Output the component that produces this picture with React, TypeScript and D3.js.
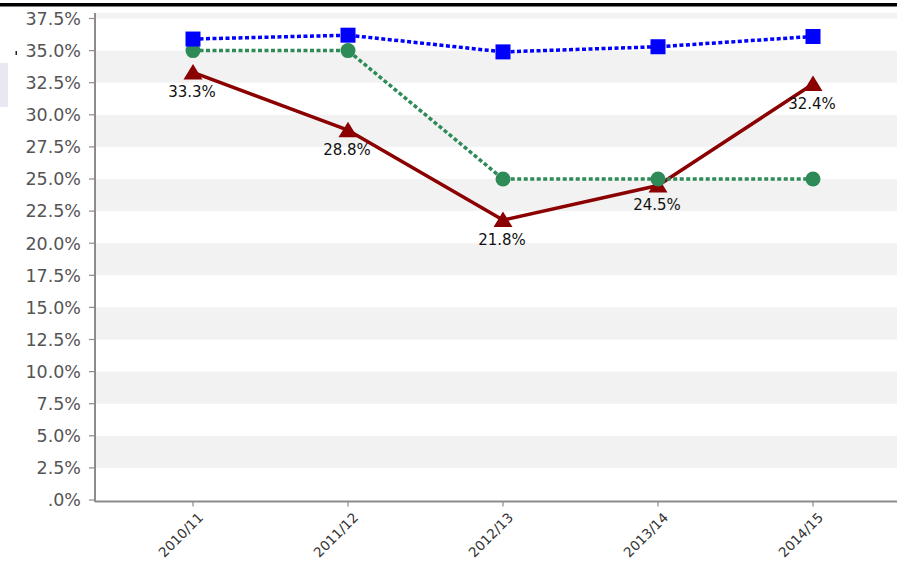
import React from "react";
import * as d3 from "d3";

const categories = ["2010/11", "2011/12", "2012/13", "2013/14", "2014/15"];
const blueValues = [35.9, 36.2, 34.9, 35.3, 36.1];
const greenValues = [35.0, 35.0, 25.0, 25.0, 25.0];
const redValues = [33.3, 28.8, 21.8, 24.5, 32.4];
const yTicks = [0, 2.5, 5, 7.5, 10, 12.5, 15, 17.5, 20, 22.5, 25, 27.5, 30, 32.5, 35, 37.5];

const W = 897;
const H = 565;
const plotLeft = 95;
const plotTop = 13;
const plotBottom = 500;

const fmtTick = (d: number) => (d === 0 ? ".0%" : d.toFixed(1) + "%");

export default function App() {
  const x = d3.scalePoint<string>().domain(categories).range([193, 813]);
  const y = d3.scaleLinear().domain([0, 37.5]).range([plotBottom, 18.5]);

  const line = d3
    .line<number>()
    .x((_, i) => x(categories[i]) as number)
    .y((d) => y(d));

  const bandStep = 2.5;
  const bands = d3.range(0, 16).filter((i) => i % 2 === 1);

  const font = "Tahoma, 'DejaVu Sans', sans-serif";

  return (
    <svg
      width={W}
      height={H}
      style={{ position: "absolute", left: 0, top: 0, background: "#fff" }}
    >
      <defs>
        <clipPath id="plotClip">
          <rect x={plotLeft} y={plotTop} width={W - plotLeft} height={plotBottom - plotTop} />
        </clipPath>
      </defs>

      {/* top rule and stray bits on the left */}
      <rect x={0} y={3} width={W} height={3.5} fill="#000" />
      <rect x={0} y={63} width={8} height={44} fill="#e8e8f3" />
      <rect x={15.5} y={51} width={1.5} height={4} fill="#222" />

      <g clipPath="url(#plotClip)">
        {bands.map((i) => (
          <rect
            key={i}
            x={plotLeft}
            y={y((i + 1) * bandStep)}
            width={W - plotLeft}
            height={y(i * bandStep) - y((i + 1) * bandStep)}
            fill="#f2f2f2"
          />
        ))}
      </g>

      {/* y axis */}
      <line x1={plotLeft} x2={plotLeft} y1={plotTop} y2={plotBottom + 2} stroke="#8c8c8c" strokeWidth={2} />
      {yTicks.map((t) => (
        <g key={t} transform={`translate(0,${y(t)})`}>
          <line x1={plotLeft - 6} x2={plotLeft} stroke="#8c8c8c" strokeWidth={1.2} />
          <text
            x={81}
            dy="0.36em"
            textAnchor="end"
            fontFamily={font}
            fontSize={17.5}
            fill="#555"
          >
            {fmtTick(t)}
          </text>
        </g>
      ))}

      {/* x axis */}
      <line x1={plotLeft} x2={W} y1={plotBottom + 1.5} y2={plotBottom + 1.5} stroke="#8c8c8c" strokeWidth={2} />
      {categories.map((c) => (
        <g key={c} transform={`translate(${x(c)},${plotBottom + 1.5})`}>
          <line y1={0} y2={5} stroke="#8c8c8c" strokeWidth={1.2} />
          <text
            transform="translate(11,17) rotate(-45)"
            textAnchor="end"
            fontFamily={font}
            fontSize={13.5}
            fill="#333"
          >
            {c}
          </text>
        </g>
      ))}

      {/* red series */}
      <path d={line(redValues) || ""} fill="none" stroke="#8b0000" strokeWidth={3.5} strokeLinejoin="round" />
      {redValues.map((v, i) => {
        const cx = x(categories[i]) as number;
        const cy = y(v);
        return (
          <path
            key={i}
            d={`M${cx},${cy - 8.5}L${cx + 9.5},${cy + 7}L${cx - 9.5},${cy + 7}Z`}
            fill="#8b0000"
          />
        );
      })}

      {/* green series */}
      <path
        d={line(greenValues) || ""}
        fill="none"
        stroke="#2e8b57"
        strokeWidth={3.5}
        strokeDasharray="4,2.5"
      />
      {greenValues.map((v, i) => (
        <circle key={i} cx={x(categories[i]) as number} cy={y(v)} r={7.5} fill="#2e8b57" />
      ))}

      {/* blue series */}
      <path
        d={line(blueValues) || ""}
        fill="none"
        stroke="#0000ff"
        strokeWidth={3.5}
        strokeDasharray="4,2.5"
      />
      {blueValues.map((v, i) => (
        <rect
          key={i}
          x={(x(categories[i]) as number) - 7.5}
          y={y(v) - 7.5}
          width={15}
          height={15}
          fill="#0000ff"
        />
      ))}

      {/* red labels */}
      {redValues.map((v, i) => (
        <text
          key={i}
          x={(x(categories[i]) as number) - 1}
          y={y(v) + 25}
          textAnchor="middle"
          fontFamily={font}
          fontSize={15}
          fill="#111"
        >
          {v.toFixed(1) + "%"}
        </text>
      ))}
    </svg>
  );
}
